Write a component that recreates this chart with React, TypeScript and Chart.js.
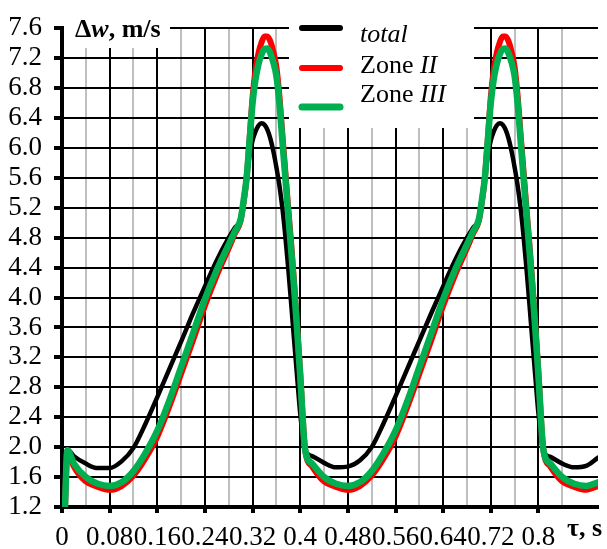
import { useEffect, useRef } from 'react';
import { Chart, registerables } from 'chart.js';

Chart.register(...registerables);

const SERIF = '"Liberation Serif", "Times New Roman", serif';

// time, s
const TAU = [
  0.005, 0.009, 0.02, 0.04, 0.06, 0.08, 0.10, 0.12, 0.14, 0.16,
  0.18, 0.20, 0.22, 0.24, 0.26, 0.28, 0.29, 0.30, 0.305, 0.31,
  0.315, 0.32, 0.325, 0.33, 0.335, 0.34, 0.345, 0.35, 0.355, 0.36,
  0.365, 0.37, 0.375, 0.38, 0.385, 0.39, 0.395, 0.40, 0.408,
  0.42, 0.44, 0.46, 0.48, 0.50, 0.52, 0.54, 0.56, 0.58, 0.60,
  0.62, 0.64, 0.66, 0.68, 0.69, 0.70, 0.705, 0.71, 0.715, 0.72,
  0.725, 0.73, 0.735, 0.74, 0.745, 0.75, 0.755, 0.76, 0.765, 0.77,
  0.775, 0.78, 0.785, 0.79, 0.795, 0.80, 0.808,
  0.82, 0.84, 0.86, 0.88, 0.90,
];

// Δw, m/s
const TOTAL = [
  1.2, 1.97, 1.88, 1.78, 1.72, 1.72, 1.81, 1.99, 2.31, 2.67,
  3.04, 3.41, 3.79, 4.15, 4.50, 4.80, 4.93, 5.05, 5.30, 5.60,
  5.90, 6.10, 6.22, 6.30, 6.33, 6.31, 6.24, 6.12, 5.95, 5.74,
  5.50, 5.20, 4.82, 4.38, 3.90, 3.40, 2.92, 2.45, 1.96,
  1.88, 1.79, 1.73, 1.74, 1.82, 2.00, 2.32, 2.68, 3.05, 3.42,
  3.79, 4.15, 4.50, 4.80, 4.93, 5.05, 5.30, 5.60, 5.90, 6.10,
  6.22, 6.30, 6.33, 6.31, 6.24, 6.12, 5.95, 5.74, 5.50, 5.20,
  4.82, 4.38, 3.90, 3.40, 2.92, 2.45, 1.96,
  1.87, 1.78, 1.73, 1.75, 1.86,
];

const ZONE_II = [
  1.2, 1.96, 1.74, 1.54, 1.47, 1.43, 1.48, 1.62, 1.85, 2.14,
  2.54, 2.98, 3.43, 3.89, 4.30, 4.66, 4.85, 5.03, 5.28, 5.60,
  6.12, 6.68, 7.05, 7.27, 7.41, 7.49, 7.49, 7.42, 7.28, 7.08,
  6.70, 6.18, 5.68, 5.18, 4.70, 4.17, 3.60, 2.99, 1.98,
  1.74, 1.54, 1.47, 1.43, 1.48, 1.62, 1.85, 2.14, 2.54, 2.98,
  3.43, 3.89, 4.30, 4.66, 4.85, 5.03, 5.28, 5.60, 6.12, 6.68,
  7.05, 7.27, 7.41, 7.49, 7.49, 7.42, 7.28, 7.08, 6.70, 6.18,
  5.68, 5.18, 4.70, 4.17, 3.60, 2.99, 1.98,
  1.74, 1.54, 1.47, 1.43, 1.48,
];

const ZONE_III = [
  1.2, 1.96, 1.78, 1.60, 1.51, 1.48, 1.53, 1.68, 1.92, 2.22,
  2.62, 3.07, 3.52, 3.98, 4.37, 4.71, 4.88, 5.05, 5.30, 5.60,
  6.10, 6.60, 6.92, 7.12, 7.25, 7.32, 7.33, 7.26, 7.14, 6.96,
  6.60, 6.10, 5.60, 5.10, 4.62, 4.10, 3.55, 2.95, 1.98,
  1.78, 1.60, 1.51, 1.48, 1.53, 1.68, 1.92, 2.22, 2.62, 3.07,
  3.52, 3.98, 4.37, 4.71, 4.88, 5.05, 5.30, 5.60, 6.10, 6.60,
  6.92, 7.12, 7.25, 7.32, 7.33, 7.26, 7.14, 6.96, 6.60, 6.10,
  5.60, 5.10, 4.62, 4.10, 3.55, 2.95, 1.98,
  1.78, 1.60, 1.51, 1.48, 1.53,
];

const X_MIN = 0;
const X_MAX = 0.9;
const X_MINOR_STEP = 0.04;
const X_MAJOR_STEP = 0.08;
const X_UNLABELLED = [0.88];
const Y_MIN = 1.2;
const Y_MAX = 7.6;
const Y_STEP = 0.4;

const BLACK = '#000000';
const RED = '#ff0000';
const GREEN = '#00b050';
const GRAY = '#bfbfbf';

const isMultiple = (v: number, step: number) =>
  Math.abs(v / step - Math.round(v / step)) < 1e-6;
const isUnlabelled = (v: number) => X_UNLABELLED.some((u) => Math.abs(u - v) < 1e-6);
const isMajorX = (v: number) => isMultiple(v, X_MAJOR_STEP) && !isUnlabelled(v);

const points = (vals: number[]) => TAU.map((t, i) => ({ x: t, y: vals[i] }));

type Run = [string, string];
function drawRuns(ctx: CanvasRenderingContext2D, x: number, y: number, runs: Run[]) {
  let cx = x;
  for (const [text, font] of runs) {
    ctx.font = font;
    ctx.fillText(text, cx, y);
    cx += ctx.measureText(text).width;
  }
}

const overlay = {
  id: 'overlay',
  beforeDatasetsDraw(chart: any) {
    const ctx: CanvasRenderingContext2D = chart.ctx;
    ctx.save();
    ctx.fillStyle = '#ffffff';
    // backdrop for the axis title and for the legend
    ctx.fillRect(64, 0, 106, 48);
    ctx.fillRect(289, 0, 185, 128);
    ctx.restore();
  },
  afterDraw(chart: any) {
    const ctx: CanvasRenderingContext2D = chart.ctx;
    ctx.save();
    ctx.fillStyle = '#000';
    ctx.textBaseline = 'alphabetic';
    ctx.textAlign = 'left';

    // y axis title
    drawRuns(ctx, 75, 37, [
      ['Δ', `bold 26px ${SERIF}`],
      ['w', `italic bold 26px ${SERIF}`],
      [', m/s', `bold 26px ${SERIF}`],
    ]);

    // x axis title
    drawRuns(ctx, 567, 536, [['τ, s', `bold 26px ${SERIF}`]]);

    // legend
    const items: { color: string; width: number; lineY: number; textY: number; runs: Run[] }[] = [
      { color: BLACK, width: 6, lineY: 28, textY: 42, runs: [['total', `italic 26px ${SERIF}`]] },
      { color: RED, width: 6, lineY: 68, textY: 73, runs: [['Zone ', `26px ${SERIF}`], ['II', `italic 26px ${SERIF}`]] },
      { color: GREEN, width: 7, lineY: 107, textY: 102, runs: [['Zone ', `26px ${SERIF}`], ['III', `italic 26px ${SERIF}`]] },
    ];
    ctx.lineCap = 'round';
    for (const it of items) {
      ctx.strokeStyle = it.color;
      ctx.lineWidth = it.width;
      ctx.beginPath();
      ctx.moveTo(302, it.lineY);
      ctx.lineTo(340, it.lineY);
      ctx.stroke();
      drawRuns(ctx, 360, it.textY, it.runs);
    }
    ctx.restore();
  },
};

export default function App() {
  const canvasRef = useRef<HTMLCanvasElement>(null);

  useEffect(() => {
    const canvas = canvasRef.current;
    if (!canvas) return;
    const font = { family: SERIF, size: 27 };
    const line = (label: string, vals: number[], color: string, width: number, order: number) => ({
      label,
      data: points(vals),
      borderColor: color,
      backgroundColor: color,
      borderWidth: width,
      pointRadius: 0,
      fill: false,
      cubicInterpolationMode: 'monotone' as const,
      borderJoinStyle: 'round' as const,
      borderCapStyle: 'round' as const,
      order,
    });

    const chart = new Chart(canvas, {
      type: 'line',
      data: {
        datasets: [
          line('total', TOTAL, BLACK, 4.5, 2),
          line('Zone II', ZONE_II, RED, 6, 1),
          line('Zone III', ZONE_III, GREEN, 6.5, 0),
        ],
      },
      options: {
        responsive: false,
        animation: false,
        events: [],
        layout: { padding: { top: 22, right: 9, left: 0, bottom: 0 } },
        plugins: {
          legend: { display: false },
          tooltip: { enabled: false },
          title: { display: false },
        },
        scales: {
          x: {
            type: 'linear',
            min: X_MIN,
            max: X_MAX,
            afterBuildTicks: (s: any) => {
              s.ticks = s.ticks.filter((t: any) => isMultiple(t.value, X_MINOR_STEP));
            },
            afterFit: (s: any) => {
              s.height = 42;
            },
            ticks: {
              stepSize: X_MINOR_STEP,
              autoSkip: false,
              maxRotation: 0,
              minRotation: 0,
              padding: 9,
              color: BLACK,
              font,
              callback: (v: any) =>
                isMajorX(Number(v)) ? String(parseFloat(Number(v).toFixed(2))) : '',
            },
            grid: {
              color: (c: any) => (isMultiple(c.tick.value, X_MAJOR_STEP) ? BLACK : GRAY),
              lineWidth: 2,
              drawTicks: true,
              tickLength: 6,
              tickWidth: 4,
              tickColor: (c: any) => (isMajorX(c.tick.value) ? BLACK : 'rgba(0,0,0,0)'),
            },
            border: { color: BLACK, width: 4 },
          },
          y: {
            type: 'linear',
            min: Y_MIN,
            max: Y_MAX,
            afterFit: (s: any) => {
              s.width = 62;
            },
            ticks: {
              stepSize: Y_STEP,
              autoSkip: false,
              padding: 12,
              color: BLACK,
              font,
              callback: (v: any) => Number(v).toFixed(1),
            },
            grid: {
              color: BLACK,
              lineWidth: 2,
              drawTicks: true,
              tickLength: 8,
              tickWidth: 4,
              tickColor: BLACK,
            },
            border: { color: BLACK, width: 4 },
          },
        },
      },
      plugins: [overlay],
    });
    return () => chart.destroy();
  }, []);

  return (
    <div style={{ position: 'fixed', left: 0, top: 0, width: 607, height: 549, background: '#fff' }}>
      <canvas ref={canvasRef} width={607} height={549} style={{ display: 'block', width: 607, height: 549 }} />
    </div>
  );
}
